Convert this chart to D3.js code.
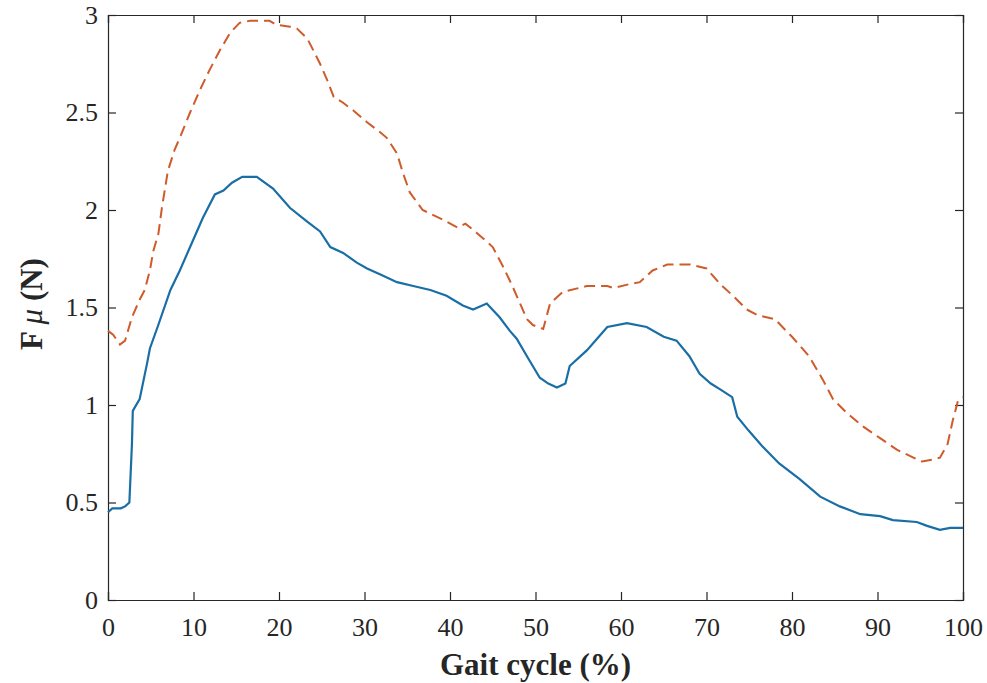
<!DOCTYPE html>
<html>
<head>
<meta charset="utf-8">
<script src="https://cdn.jsdelivr.net/npm/d3@7"></script>
<style>
  body { margin: 0; background: #fff; }
  text { font-family: "Liberation Serif", "Times New Roman", serif; fill: #262626; }
</style>
</head>
<body>
<div id="chart"></div>
<script>
// gait cycle (%) sample positions and force values
let solidX = [0, 0.5, 1.5, 2.0, 2.5, 2.8, 2.9, 3.7, 4.6, 4.9, 5.8, 7.3, 8.4, 9.6, 11.1, 12.5, 13.5, 14.5, 15.7, 17.4,
  19.3, 21.3, 23.3, 24.8, 26.0, 27.5, 29.1, 30.3, 31.8, 33.8, 35.7, 37.7, 39.6, 41.5, 42.7, 44.3, 45.8, 47.0, 47.8, 49.0,
  50.5, 51.5, 52.5, 53.5, 54.0, 56.0, 58.4, 60.7, 63.0, 65.0, 66.5, 68.0, 69.2, 70.5, 71.6, 73.0, 73.6, 74.9, 76.5, 78.5,
  80.9, 83.3, 85.6, 88.0, 90.3, 91.8, 94.6, 95.8, 97.3, 98.5, 100];
let solidY = [0.45, 0.47, 0.47, 0.48, 0.50, 0.80, 0.97, 1.03, 1.22, 1.29, 1.40, 1.59, 1.69, 1.81, 1.96, 2.08, 2.10, 2.14, 2.17, 2.17,
  2.11, 2.01, 1.94, 1.89, 1.81, 1.78, 1.73, 1.70, 1.67, 1.63, 1.61, 1.59, 1.56, 1.51, 1.49, 1.52, 1.45, 1.38, 1.34, 1.25,
  1.14, 1.11, 1.09, 1.11, 1.20, 1.28, 1.40, 1.42, 1.40, 1.35, 1.33, 1.25, 1.16, 1.11, 1.08, 1.04, 0.94, 0.87, 0.79, 0.70,
  0.62, 0.53, 0.48, 0.44, 0.43, 0.41, 0.40, 0.38, 0.36, 0.37, 0.37];

let dashedX = [0, 0.6, 1.4, 2.0, 2.8, 3.7, 4.3, 4.9, 5.3, 5.9, 6.3, 7.0, 7.8, 8.4, 9.6, 10.8, 11.9, 13.1, 14.3, 15.4,
  16.6, 17.8, 18.9, 19.7, 21.3, 22.1, 23.3, 24.0, 24.8, 25.6, 26.4, 27.5, 28.7, 30.3, 31.8, 32.6, 33.8, 34.5, 35.3, 36.8,
  39.2, 40.9, 41.8, 43.2, 45.0, 46.2, 47.3, 48.2, 49.0, 49.7, 50.9, 51.7, 53.2, 56.0, 58.4, 59.1, 61.0, 62.2, 63.7, 65.4,
  68.1, 70.0, 71.6, 73.1, 74.7, 76.0, 78.0, 80.0, 82.0, 83.6, 84.8, 86.4, 88.3, 90.3, 92.3, 94.2, 95.2, 96.5, 97.3, 98.2,
  98.8, 99.4, 100];
let dashedY = [1.38, 1.36, 1.31, 1.33, 1.45, 1.54, 1.59, 1.69, 1.79, 1.88, 2.01, 2.20, 2.31, 2.37, 2.50, 2.62, 2.72, 2.82, 2.91, 2.96,
  2.97, 2.97, 2.97, 2.95, 2.94, 2.93, 2.88, 2.82, 2.75, 2.67, 2.58, 2.55, 2.51, 2.45, 2.40, 2.37, 2.29, 2.19, 2.09, 2.00,
  1.95, 1.91, 1.93, 1.88, 1.81, 1.71, 1.61, 1.52, 1.44, 1.41, 1.39, 1.52, 1.58, 1.61, 1.61, 1.60, 1.62, 1.63, 1.69, 1.72,
  1.72, 1.70, 1.62, 1.56, 1.49, 1.46, 1.44, 1.35, 1.25, 1.13, 1.03, 0.96, 0.89, 0.83, 0.77, 0.73, 0.71, 0.72, 0.73, 0.80,
  0.92, 1.02, 1.04];

let xTicks = [0, 10, 20, 30, 40, 50, 60, 70, 80, 90, 100];
let yTicks = [0, 0.5, 1, 1.5, 2, 2.5, 3];

function mainChart() {
    let W = 987, H = 683;
    let margin = {top: 15, right: 24, bottom: 83, left: 108};
    let w = W - margin.left - margin.right;
    let h = H - margin.top - margin.bottom;
    let tickLen = 8;
    let axisColor = "#262626";

    let svg = d3.select("#chart").append("svg")
        .attr("width", W)
        .attr("height", H);

    svg.append("rect").attr("width", W).attr("height", H).attr("fill", "#fff");

    let g = svg.append("g")
        .attr("transform", "translate(" + margin.left + "," + margin.top + ")");

    let x = d3.scaleLinear().domain([0, 100]).range([0, w]);
    let y = d3.scaleLinear().domain([0, 3]).range([h, 0]);

    // box with inward ticks on all four sides
    let bottomAxis = d3.axisBottom(x).tickValues(xTicks).tickSize(-tickLen).tickPadding(18).tickFormat(d3.format("d"));
    let topAxis = d3.axisTop(x).tickValues(xTicks).tickSize(-tickLen).tickFormat("");
    let leftAxis = d3.axisLeft(y).tickValues(yTicks).tickSize(-tickLen).tickPadding(10).tickFormat(d => d);
    let rightAxis = d3.axisRight(y).tickValues(yTicks).tickSize(-tickLen).tickFormat("");

    g.append("g").attr("transform", "translate(0," + h + ")").call(bottomAxis);
    g.append("g").call(topAxis);
    g.append("g").call(leftAxis);
    g.append("g").attr("transform", "translate(" + w + ",0)").call(rightAxis);

    g.selectAll(".domain").attr("stroke", axisColor).attr("stroke-width", 1.2);
    g.selectAll(".tick line").attr("stroke", axisColor).attr("stroke-width", 1.2);
    g.selectAll(".tick text")
        .style("font-family", "'Liberation Serif', serif")
        .style("font-size", "26px")
        .attr("fill", axisColor);

    let line = d3.line()
        .x(d => x(d[0]))
        .y(d => y(d[1]));

    let solidData = solidX.map((v, i) => [v, solidY[i]]);
    let dashedData = dashedX.map((v, i) => [v, dashedY[i]]);

    g.append("path")
        .datum(dashedData)
        .attr("d", line)
        .attr("fill", "none")
        .attr("stroke", "#cf5b2a")
        .attr("stroke-width", 2)
        .attr("stroke-dasharray", "11,6");

    g.append("path")
        .datum(solidData)
        .attr("d", line)
        .attr("fill", "none")
        .attr("stroke", "#1a6ea6")
        .attr("stroke-width", 2.2);

    // axis titles
    svg.append("text")
        .attr("x", margin.left + w / 2)
        .attr("y", 675)
        .attr("text-anchor", "middle")
        .style("font-size", "31px")
        .style("font-weight", "bold")
        .text("Gait cycle (%)");

    let yl = svg.append("text")
        .attr("text-anchor", "middle")
        .attr("transform", "translate(42,304) rotate(-90)")
        .style("font-size", "31px")
        .style("font-weight", "bold");
    yl.append("tspan").text("F ");
    yl.append("tspan").style("font-style", "italic").style("font-weight", "normal").text("μ");
    yl.append("tspan").text(" (N)");
}

mainChart();
</script>
</body>
</html>
